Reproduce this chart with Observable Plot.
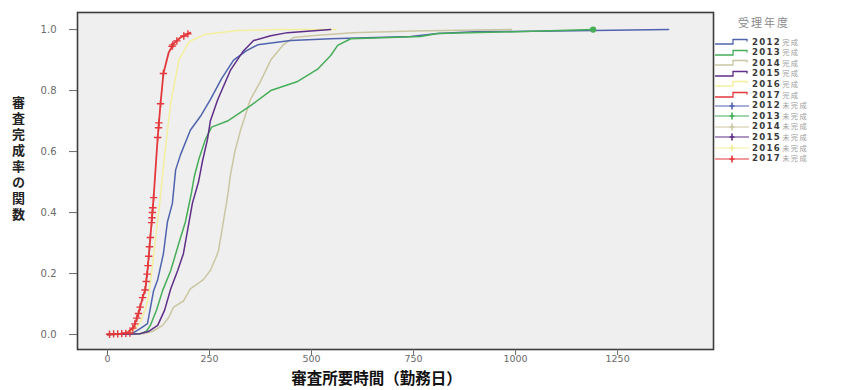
<!DOCTYPE html>
<html><head><meta charset="utf-8">
<script src="https://cdn.jsdelivr.net/npm/d3@7"></script>
<script src="https://cdn.jsdelivr.net/npm/@observablehq/plot@0.6"></script>
<style>
body{margin:0;background:#fff;}
#wrap{position:relative;width:847px;height:390px;overflow:hidden;background:#fff;}
#legend{position:absolute;left:0;top:0;width:847px;height:390px;pointer-events:none;}
.lg-title{position:absolute;left:738px;top:16px;font-family:"Noto Sans CJK JP",sans-serif;font-size:11px;color:#8a8a8a;letter-spacing:2px;line-height:12px;}
.lg-row{position:absolute;left:714px;height:10px;line-height:10px;display:flex;align-items:center;white-space:nowrap;}
.lg-row svg{display:block;}
.lg-yr{font-family:"DejaVu Sans",sans-serif;font-weight:bold;font-size:8.6px;line-height:9px;color:#3a3a3a;letter-spacing:1.3px;margin-left:2px;}
.lg-st{font-family:"Noto Sans CJK JP",sans-serif;font-size:7.3px;line-height:9px;color:#a0a0a0;letter-spacing:1.4px;margin-left:1px;}
</style></head><body>
<div id="wrap"><div id="chart"></div><div id="legend"></div></div>
<script>
// ---- data ----
const years = ["2012","2013","2014","2015","2016","2017"];
const statusDone = "完成";
const statusOpen = "未完成";
const legendTitle = "受理年度";
const xTitle = "審査所要時間（勤務日）";
const yTitle = "審査完成率の関数";
const xTicks = [0, 250, 500, 750, 1000, 1250];
const yTicks = [0, 0.2, 0.4, 0.6, 0.8, 1.0];

const days2012 = [0,60,81,98,113,123,137,147,159,167,179,203,230,252,280,309,340,368,449,547,743,809,900,1100,1375];
const prob2012 = [0,0.003,0.02,0.036,0.144,0.18,0.265,0.37,0.43,0.54,0.59,0.67,0.72,0.77,0.84,0.9,0.93,0.95,0.964,0.97,0.977,0.987,0.993,0.995,1.0];
const days2013 = [0,80,95,105,120,135,155,175,191,205,213,225,240,255,294,350,400,466,515,547,564,596,767,809,1000,1190];
const prob2013 = [0,0.003,0.01,0.03,0.08,0.144,0.21,0.3,0.37,0.46,0.52,0.58,0.64,0.68,0.70,0.75,0.80,0.83,0.87,0.915,0.948,0.97,0.977,0.987,0.993,1.0];
const days2014 = [0,90,110,135,150,162,186,203,235,252,265,272,284,295,301,312,326,350,375,400,431,456,500,600,750,990];
const prob2014 = [0,0.003,0.01,0.03,0.056,0.09,0.11,0.15,0.18,0.21,0.25,0.275,0.37,0.46,0.52,0.6,0.67,0.77,0.83,0.9,0.95,0.974,0.98,0.99,0.995,1.0];
const days2015 = [0,80,100,123,140,155,172,186,200,208,223,233,245,252,270,301,333,358,400,441,547];
const prob2015 = [0,0.003,0.01,0.03,0.08,0.15,0.21,0.265,0.37,0.43,0.5,0.57,0.64,0.70,0.77,0.866,0.93,0.964,0.98,0.99,1.0];
const days2016 = [0,40,65,80,92,100,108,118,128,140,155,175,200,240,320,420,560];
const prob2016 = [0,0.003,0.015,0.04,0.08,0.12,0.2,0.32,0.43,0.59,0.76,0.9,0.96,0.985,0.997,1,1];
const days2017 = [0,30,49,64,76,86,93,98,105,113,123,130,137,150,162,179,203];
const prob2017 = [0,0.002,0.007,0.023,0.069,0.121,0.15,0.21,0.318,0.449,0.646,0.757,0.856,0.925,0.954,0.974,0.99];

// censored (未完成) observations
const censorDays2017 = [5,15,25,35,45,55,62,67,72,76,80,86,92,95,97,99,101,103,105,108,109,110,111,113,123,125,126,130,137,158,160,170,187,197];
const censorProb2017 = [0.001,0.002,0.002,0.003,0.004,0.005,0.021,0.035,0.054,0.069,0.09,0.121,0.146,0.174,0.198,0.226,0.257,0.288,0.318,0.367,0.383,0.4,0.416,0.449,0.646,0.678,0.694,0.757,0.856,0.945,0.95,0.963,0.979,0.986];
const censorDays2013 = [1190];
const censorProb2013 = [1.0];

// ---- styles ----
const colors = {"2012":"#5064ae","2013":"#46ad58","2014":"#cbc6a2","2015":"#5e2e88","2016":"#f4ef9e","2017":"#e3393c"};
const drawOrder = ["2014","2016","2012","2013","2015","2017"];

const series = {
  "2012":[days2012,prob2012],"2013":[days2013,prob2013],"2014":[days2014,prob2014],
  "2015":[days2015,prob2015],"2016":[days2016,prob2016],"2017":[days2017,prob2017]
};
const rows = [];
for (const y of years) {
  const [d,p] = series[y];
  d.forEach((v,i)=>rows.push({year:y, day:v, prob:p[i]}));
}
const cens2017 = censorDays2017.map((d,i)=>({day:d, prob:censorProb2017[i]}));
const cens2013 = censorDays2013.map((d,i)=>({day:d, prob:censorProb2013[i]}));

const marks = [
  Plot.frame({fill:"#efefef", stroke:"#3c3c3c", strokeWidth:1.6}),
  Plot.axisX({ticks:xTicks, tickSize:6, tickPadding:0, tickFormat:d=>String(d), color:"#6a6a6a", fontSize:9.5, label:null}),
  Plot.axisY({ticks:yTicks, tickSize:8, tickPadding:13, tickFormat:d3.format(".1f"), color:"#6a6a6a", fontSize:10, label:null}),
];
for (const y of drawOrder) {
  marks.push(Plot.line(rows.filter(r=>r.year===y), {x:"day", y:"prob", stroke:colors[y], strokeWidth: y==="2017"?1.8:1.5, curve:"linear"}));
}
marks.push(Plot.dot(cens2017, {x:"day", y:"prob", symbol:"plus", r:2.5, stroke:colors["2017"], strokeWidth:1.4}));
marks.push(Plot.dot(cens2013, {x:"day", y:"prob", r:2.4, fill:colors["2013"], stroke:colors["2013"]}));
marks.push(Plot.text([xTitle], {frameAnchor:"bottom", dx:-19, dy:34, fontSize:15.5, fontWeight:"bold", fill:"#111", fontFamily:"Noto Sans CJK JP"}));
marks.push(Plot.text([yTitle], {frameAnchor:"left", dx:-59, dy:-26, fontSize:13, fontWeight:"bold", fill:"#222", fontFamily:"Noto Sans CJK JP", className:"ytitle"}));

const chart = Plot.plot({
  width:847, height:390,
  marginLeft:77, marginRight:134, marginTop:12, marginBottom:41,
  x:{domain:[-73.5,1485]},
  y:{domain:[-0.049,1.056]},
  style:{fontFamily:"DejaVu Sans, sans-serif", fontSize:"10px", background:"transparent"},
  marks
});
// vertical (upright) writing for the y-axis title
chart.querySelectorAll(".ytitle text").forEach(el=>{
  el.removeAttribute("dy");
  el.style.writingMode = "vertical-rl";
  el.style.letterSpacing = "3px";
  el.setAttribute("text-anchor","middle");
});
document.getElementById("chart").appendChild(chart);

// ---- legend ----
const lg = document.getElementById("legend");
const t = document.createElement("div"); t.className="lg-title"; t.textContent=legendTitle; lg.appendChild(t);
const entries = [];
for (const y of years) entries.push({year:y, status:statusDone});
for (const y of years) entries.push({year:y, status:statusOpen});
entries.forEach((e,i)=>{
  const row = document.createElement("div"); row.className="lg-row";
  row.style.top = (37 + i*10.6) + "px";
  const c = colors[e.year];
  const sym = e.status===statusDone
    ? `<path d="M1,7 H19 V2.5 H33 V4.5" fill="none" stroke="${c}" stroke-width="1.3"/>`
    : `<path d="M1,5 H35" fill="none" stroke="${c}" stroke-width="1.2"/><path d="M18,1.5 V8.5 M15.5,5 H20.5" stroke="${c}" stroke-width="1.6"/>`;
  row.innerHTML = `<svg width="36" height="10" viewBox="0 0 36 10">${sym}</svg><span class="lg-yr">${e.year}</span><span class="lg-st">${e.status}</span>`;
  lg.appendChild(row);
});
</script>
</body></html>
